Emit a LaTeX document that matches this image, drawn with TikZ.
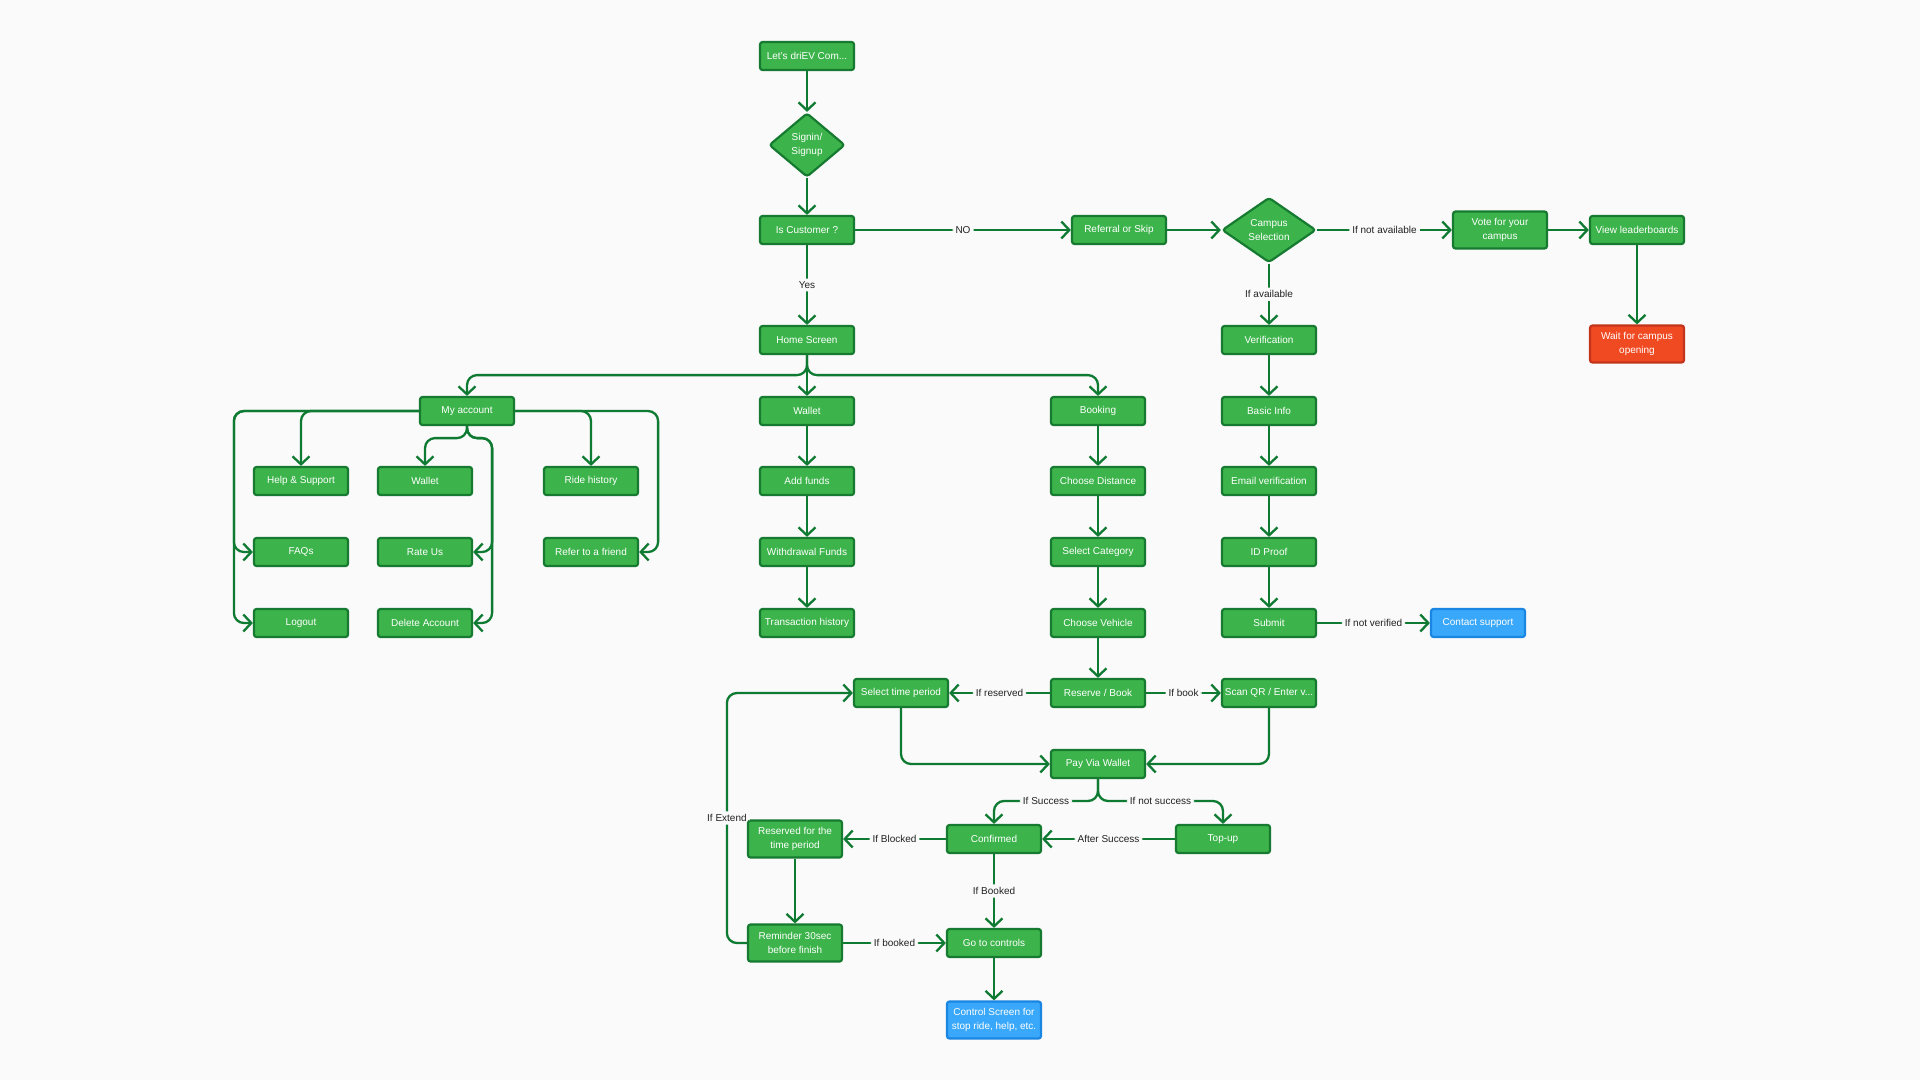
\documentclass[tikz,border=0pt]{standalone}
\usepackage[dvipsnames]{xcolor}
\usepackage{tikz}
\usepackage{fontspec}
\setmainfont{Liberation Sans}
\usetikzlibrary{arrows.meta,shapes.geometric}
\definecolor{pagebg}{HTML}{FAFAFA}
\definecolor{boxfill}{HTML}{3CB44B}
\definecolor{boxline}{HTML}{167A30}
\definecolor{wiregreen}{HTML}{0F7A32}
\definecolor{redfill}{HTML}{F04A22}
\definecolor{redline}{HTML}{C2341B}
\definecolor{bluefill}{HTML}{3AA8FA}
\definecolor{blueline}{HTML}{1A86E2}
\definecolor{lbltext}{HTML}{222222}

\begin{document}
\begin{tikzpicture}[x=1pt,y=-1pt,
  box/.style={draw=boxline,fill=boxfill,line width=2.2pt,rounded corners=2.5pt,minimum width=94pt,minimum height=28pt,inner sep=2pt,text=white,align=center,font=\fontsize{10}{14}\selectfont},
  tallbox/.style={box,minimum height=37pt},
  redbox/.style={tallbox,draw=redline,fill=redfill},
  bluebox/.style={box,draw=blueline,fill=bluefill},
  choice/.style={box,diamond,inner sep=0pt,rounded corners=3pt},
  link/.style={draw=wiregreen,line width=2.3pt,-{Straight Barb[length=8pt,width=17pt]},rounded corners=10pt},
  lbl/.style={fill=pagebg,text=lbltext,inner sep=3pt,font=\fontsize{10}{12}\selectfont}]
 \fill[pagebg] (0,0) rectangle (1920,1080);
 \useasboundingbox (0,0) rectangle (1920,1080);

 \node[box] (start) at (807,56) {Let’s driEV Com...};
 \node[choice,minimum width=76pt,minimum height=64pt] (signin) at (807,145) {Signin/\\Signup};
 \node[box] (cust) at (807,230) {Is Customer ?};
 \node[box] (ref) at (1119,230) {Referral or Skip};
 \node[choice,minimum width=94pt,minimum height=65pt] (campus) at (1269,230) {Campus\\Selection};
 \node[tallbox] (vote) at (1500,230) {Vote for your\\campus};
 \node[box] (lead) at (1637,230) {View leaderboards};
 \node[redbox] (wait) at (1637,344) {Wait for campus\\opening};

 \node[box] (verif) at (1269,340) {Verification};
 \node[box] (basic) at (1269,411) {Basic Info};
 \node[box] (email) at (1269,481) {Email verification};
 \node[box] (idp) at (1269,552) {ID Proof};
 \node[box] (submit) at (1269,623) {Submit};
 \node[bluebox] (contact) at (1478,623) {Contact support};

 \node[box] (home) at (807,340) {Home Screen};
 \node[box] (acct) at (467,411) {My account};
 \node[box] (help) at (301,481) {Help \& Support};
 \node[box] (accwal) at (425,481) {Wallet};
 \node[box] (ride) at (591,481) {Ride history};
 \node[box] (faqs) at (301,552) {FAQs};
 \node[box] (rate) at (425,552) {Rate Us};
 \node[box] (refer) at (591,552) {Refer to a friend};
 \node[box] (logout) at (301,623) {Logout};
 \node[box] (delacc) at (425,623) {Delete Account};

 \node[box] (wallet) at (807,411) {Wallet};
 \node[box] (addf) at (807,481) {Add funds};
 \node[box] (withd) at (807,552) {Withdrawal Funds};
 \node[box] (trans) at (807,623) {Transaction history};

 \node[box] (book) at (1098,411) {Booking};
 \node[box] (dist) at (1098,481) {Choose Distance};
 \node[box] (cat) at (1098,552) {Select Category};
 \node[box] (veh) at (1098,623) {Choose Vehicle};
 \node[box] (resv) at (1098,693) {Reserve / Book};
 \node[box] (stp) at (901,693) {Select time period};
 \node[box] (scan) at (1269,693) {Scan QR / Enter v...};
 \node[box] (pay) at (1098,764) {Pay Via Wallet};
 \coordinate (split) at (1098,801);
 \node[box] (conf) at (994,839) {Confirmed};
 \node[box] (topup) at (1223,839) {Top-up};
 \node[tallbox] (resd) at (795,839) {Reserved for the\\time period};
 \node[tallbox] (remd) at (795,943) {Reminder 30sec\\before finish};
 \node[box] (goc) at (994,943) {Go to controls};
 \node[bluebox,minimum height=37pt] (ctrl) at (994,1020) {Control Screen for\\stop ride, help, etc.};

 \draw[link] (start.south) -- (signin.north);
 \draw[link] (signin.south) -- (cust.north);
 \draw[link] (cust.east) -- node[lbl]{NO} (ref.west);
 \draw[link] (ref.east) -- (campus.west);
 \draw[link] (campus.east) -- node[lbl]{If not available} (vote.west);
 \draw[link] (vote.east) -- (lead.west);
 \draw[link] (lead.south) -- (wait.north);
 \draw[link] (campus.south) -- node[lbl]{If available} (verif.north);
 \draw[link] (verif.south) -- (basic.north);
 \draw[link] (basic.south) -- (email.north);
 \draw[link] (email.south) -- (idp.north);
 \draw[link] (idp.south) -- (submit.north);
 \draw[link] (submit.east) -- node[lbl]{If not verified} (contact.west);
 \draw[link] (cust.south) -- node[lbl]{Yes} (home.north);

 \draw[link] (home.south) -- (wallet.north);
 \draw[link] (home.south) -- ++(0,20) -| (acct.north);
 \draw[link] (home.south) -- ++(0,20) -| (book.north);

 \draw[link] (acct.west) -| (help.north);
 \draw[link] (acct.west) -| ([xshift=-19pt]faqs.west) -- (faqs.west);
 \draw[link] (acct.west) -| ([xshift=-19pt]logout.west) -- (logout.west);
 \draw[link] (acct.south) -- ++(0,12) -| (accwal.north);
 \draw[link] (acct.south) -- ++(0,12) -| ([xshift=19pt]rate.east) -- (rate.east);
 \draw[link] (acct.south) -- ++(0,12) -| ([xshift=19pt]delacc.east) -- (delacc.east);
 \draw[link] (acct.east) -| (ride.north);
 \draw[link] (acct.east) -| ([xshift=19pt]refer.east) -- (refer.east);

 \draw[link] (wallet.south) -- (addf.north);
 \draw[link] (addf.south) -- (withd.north);
 \draw[link] (withd.south) -- (trans.north);

 \draw[link] (book.south) -- (dist.north);
 \draw[link] (dist.south) -- (cat.north);
 \draw[link] (cat.south) -- (veh.north);
 \draw[link] (veh.south) -- (resv.north);
 \draw[link] (resv.west) -- node[lbl]{If reserved} (stp.east);
 \draw[link] (resv.east) -- node[lbl]{If book} (scan.west);
 \draw[link] (stp.south) |- (pay.west);
 \draw[link] (scan.south) |- (pay.east);
 \draw[link] (pay.south) |- node[lbl,pos=.75]{If Success} (split -| conf.north) -- (conf.north);
 \draw[link] (pay.south) |- node[lbl,pos=.75]{If not success} (split -| topup.north) -- (topup.north);
 \draw[link] (topup.west) -- node[lbl]{After Success} (conf.east);
 \draw[link] (conf.west) -- node[lbl]{If Blocked} (resd.east);
 \draw[link] (conf.south) -- node[lbl]{If Booked} (goc.north);
 \draw[link] (resd.south) -- (remd.north);
 \draw[link] (remd.east) -- node[lbl]{If booked} (goc.west);
 \draw[link] (remd.west) -- ++(-20,0) |- node[lbl,pos=.25]{If Extend} (stp.west);
 \draw[link] (goc.south) -- (ctrl.north);
\end{tikzpicture}
\end{document}
